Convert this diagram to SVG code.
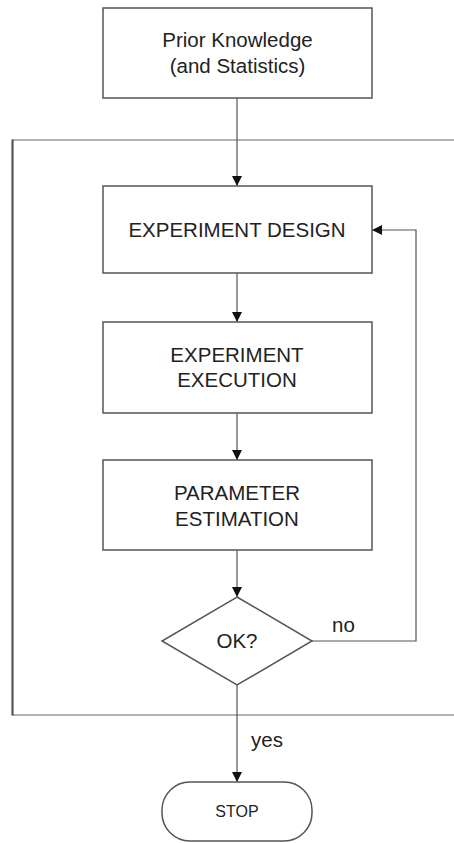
<svg xmlns="http://www.w3.org/2000/svg" width="454" height="843" viewBox="0 0 454 843">
<style>
.box{fill:#fff;stroke:#555;stroke-width:1.5}
.t{font-family:"Liberation Sans",Arial,sans-serif;font-size:20.5px;fill:#222;text-anchor:middle}
.lbl{font-family:"Liberation Sans",Arial,sans-serif;font-size:20.5px;fill:#222}
.c{fill:none;stroke:#555;stroke-width:1.2}
</style>
<defs>
<marker id="ah" viewBox="0 0 10 10" refX="10" refY="5" markerWidth="10" markerHeight="10" markerUnits="userSpaceOnUse" orient="auto">
<path d="M0,0 L10,5 L0,10 z" fill="#111"/>
</marker>
</defs>
<g id="frame">
<line x1="12" y1="140" x2="454" y2="140" stroke="#666" stroke-width="1.2"/>
<line x1="12" y1="715" x2="454" y2="715" stroke="#666" stroke-width="1.2"/>
<line x1="12.5" y1="139.5" x2="12.5" y2="715.5" stroke="#555" stroke-width="2.2"/>
</g>
<g id="connectors">
<line class="c" x1="237" y1="98" x2="237" y2="186" marker-end="url(#ah)"/>
<line class="c" x1="237" y1="273" x2="237" y2="322" marker-end="url(#ah)"/>
<line class="c" x1="237" y1="413" x2="237" y2="460" marker-end="url(#ah)"/>
<line class="c" x1="237" y1="550" x2="237" y2="597" marker-end="url(#ah)"/>
<polyline class="c" points="312,641 416,641 416,230 372,230" marker-end="url(#ah)"/>
<line class="c" x1="237" y1="685" x2="237" y2="782" marker-end="url(#ah)"/>
<text class="lbl" x="332" y="632">no</text>
<text class="lbl" x="251" y="747">yes</text>
</g>
<g id="prior">
<rect class="box" x="103" y="8" width="269" height="90"/>
<text class="t" x="237.5" y="47">Prior Knowledge</text>
<text class="t" x="237.5" y="72.5">(and Statistics)</text>
</g>
<g id="design">
<rect class="box" x="103" y="186" width="269" height="87"/>
<text class="t" x="237" y="237">EXPERIMENT DESIGN</text>
</g>
<g id="execution">
<rect class="box" x="103" y="322" width="269" height="91"/>
<text class="t" x="237" y="361.5">EXPERIMENT</text>
<text class="t" x="237" y="387">EXECUTION</text>
</g>
<g id="estimation">
<rect class="box" x="103" y="460" width="269" height="90"/>
<text class="t" x="237" y="500">PARAMETER</text>
<text class="t" x="237" y="525.5">ESTIMATION</text>
</g>
<g id="decision">
<polygon class="box" points="237,597 312,641 237,685 162,641"/>
<text class="t" x="237" y="648">OK?</text>
</g>
<g id="stop">
<rect class="box" x="162" y="782" width="150" height="59" rx="28" ry="28"/>
<text class="t" style="font-size:16px" x="237" y="817">STOP</text>
</g>
</svg>
